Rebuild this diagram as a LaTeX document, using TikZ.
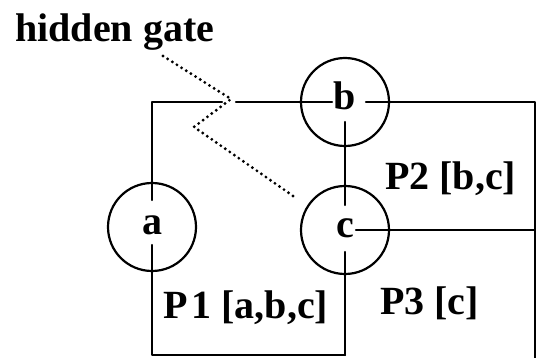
\documentclass[tikz,border=0pt]{standalone}
\usepackage{fontspec}
\setmainfont{Liberation Serif}
\usetikzlibrary{calc}
\begin{document}
\begin{tikzpicture}[x=1pt,y=-1pt,
  wire/.style={line width=2.2pt, line cap=round, line join=round},
  gatecirc/.style={circle, draw, line width=2.2pt, minimum size=88pt, inner sep=0pt,
    text height=15pt, text depth=0pt, font=\bfseries\fontsize{40}{48}\selectfont},
  lbl/.style={anchor=base west, inner sep=0pt, font=\bfseries\fontsize{40}{48}\selectfont},
  hid/.style={line width=3.2pt, line cap=round, dash pattern=on 0pt off 11pt}]
\useasboundingbox (0,0) rectangle (536,358);

% gates
\node[gatecirc] (a) at (152,227) {a};
\node[gatecirc] (b) at (345,102) {b};
\node[gatecirc] (c) at (345,230) {c};

% corner and border coordinates
\coordinate (tl) at (152,102);
\coordinate (gapL) at (222,102);
\coordinate (gapR) at (236,102);
\coordinate (tr) at (535,102);
\coordinate (br) at (535,358);
\coordinate (cr) at (535,230);
\coordinate (bl) at (152,355);
\coordinate (bm) at (345,355);

% wires
\draw[wire] ($(a)+(0,-27)$) -- (tl) -- (gapL);
\draw[wire] (gapR) -- ($(b)+(-13,0)$);
\draw[wire] ($(b)+(21,0)$) -- (tr) -- (br);
\draw[wire] ($(b)+(0,20)$) -- ($(c)+(0,-25)$);
\draw[wire] ($(c)+(11,0)$) -- (cr);
\draw[wire] ($(a)+(0,18)$) -- (bl) -- (bm);
\draw[wire] ($(c)+(0,22)$) -- (bm);

% hidden gate
\coordinate (g1) at (163,56);
\coordinate (g2) at (231,99);
\coordinate (g3) at (194,127);
\coordinate (g4) at (296,198);
\draw[hid] (g1) -- (g2) -- (g3) -- (g4);
\draw[hid, yshift=-6pt, dash phase=5.5pt] (g1) -- (g2) -- (g3) -- (g4);

% labels
\node[lbl] (hg) at (15,42) {hidden gate};
\node[lbl] (p1) at (163,319) {P\kern4pt1 [a,b,c]};
\node[lbl] (p2) at (385,190) {P2 [b,c]};
\node[lbl] (p3) at (380,315) {P3 [c]};
\end{tikzpicture}
\end{document}
